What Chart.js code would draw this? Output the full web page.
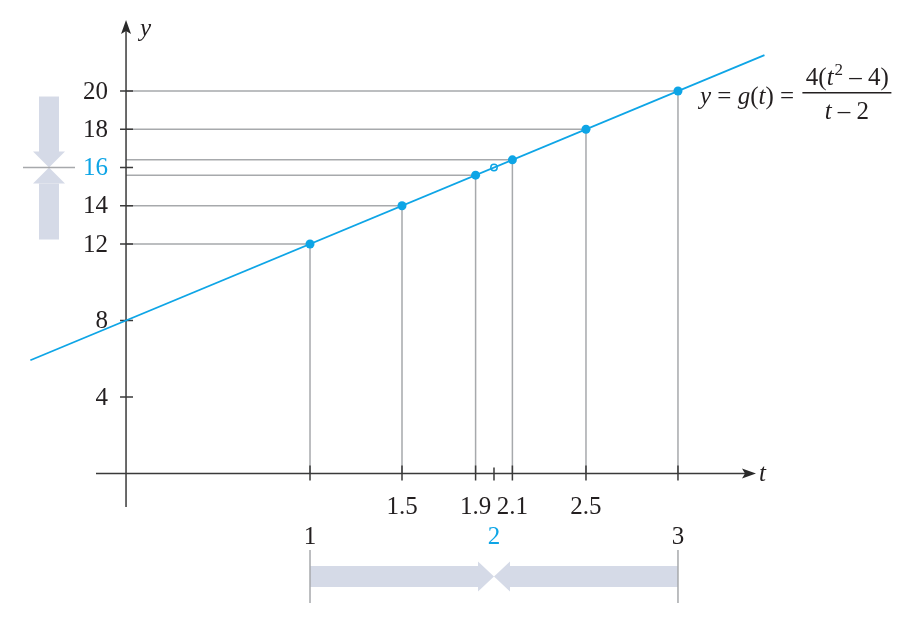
<!DOCTYPE html>
<html>
<head>
<meta charset="utf-8">
<script src="https://cdn.jsdelivr.net/npm/chart.js@4.4.1/dist/chart.umd.min.js"></script>
<style>
html, body { margin: 0; padding: 0; background: #fff; }
#wrap { width: 912px; height: 619px; position: relative; }
</style>
</head>
<body>
<div id="wrap"><canvas id="chart"></canvas></div>
<script>
// values
var tValues = [1, 1.5, 1.9, 2.1, 2.5, 3];
var gValues = [12, 14, 15.6, 16.4, 18, 20];
var holeT = [2];
var holeY = [16];
var lineT = [-0.52, 3.47];
var lineY = [5.92, 21.88];
var yTicks = [4, 8, 12, 14, 16, 18, 20];
var tTicksUpper = [1.5, 1.9, 2.1, 2.5];
var tTicksLower = [1, 2, 3];

var BLUE = '#0ea5e6';
var GRAY = '#a7a9ac';
var INK = '#231f20';
var PALE = '#d5dae7';
var SERIF = '"Liberation Serif", "Times New Roman", serif';
var FS = 25;

function pts(xs, ys) {
    var out = [];
    for (var i = 0; i < xs.length; i++) out.push({x: xs[i], y: ys[i]});
    return out;
}

function tri(ctx, a, b, c) {
    ctx.beginPath();
    ctx.moveTo(a[0], a[1]); ctx.lineTo(b[0], b[1]); ctx.lineTo(c[0], c[1]);
    ctx.closePath(); ctx.fill();
}

// draws a run of [text, italic] pieces starting at x
function runText(ctx, parts, x, y, size) {
    for (var i = 0; i < parts.length; i++) {
        ctx.font = (parts[i][1] ? 'italic ' : '') + size + 'px ' + SERIF;
        ctx.fillText(parts[i][0], x, y);
        x += ctx.measureText(parts[i][0]).width;
    }
    return x;
}

function runWidth(ctx, parts, size) {
    var w = 0;
    parts.forEach(function(p) {
        ctx.font = (p[1] ? 'italic ' : '') + size + 'px ' + SERIF;
        w += ctx.measureText(p[0]).width;
    });
    return w;
}

var axesPlugin = {
    id: 'axesPlugin',
    beforeDatasetsDraw: function(chart) {
        var ctx = chart.ctx, xs = chart.scales.x, ys = chart.scales.y;
        var ax = xs.getPixelForValue(0), ay = ys.getPixelForValue(0);
        ctx.save();

        // grey guide lines
        ctx.strokeStyle = GRAY;
        ctx.lineWidth = 1.5;
        for (var i = 0; i < tValues.length; i++) {
            var px = xs.getPixelForValue(tValues[i]), py = ys.getPixelForValue(gValues[i]);
            ctx.beginPath();
            ctx.moveTo(ax, py); ctx.lineTo(px, py);
            ctx.moveTo(px, py); ctx.lineTo(px, ay);
            ctx.stroke();
        }

        // axes
        ctx.strokeStyle = '#3a3a3a';
        ctx.fillStyle = '#2a2a2a';
        ctx.lineWidth = 1.5;
        ctx.beginPath();
        ctx.moveTo(ax, 507); ctx.lineTo(ax, 28);
        ctx.moveTo(96, ay); ctx.lineTo(748, ay);
        ctx.stroke();
        // arrow heads
        ctx.beginPath();
        ctx.moveTo(ax, 20); ctx.lineTo(ax + 5, 34); ctx.lineTo(ax, 31); ctx.lineTo(ax - 5, 34); ctx.closePath(); ctx.fill();
        ctx.beginPath();
        ctx.moveTo(756, ay); ctx.lineTo(742, ay - 5); ctx.lineTo(745, ay); ctx.lineTo(742, ay + 5); ctx.closePath(); ctx.fill();

        // ticks
        ctx.beginPath();
        yTicks.forEach(function(v) {
            var py = ys.getPixelForValue(v);
            ctx.moveTo(ax - 6, py); ctx.lineTo(ax + 7, py);
        });
        tTicksUpper.concat(tTicksLower).forEach(function(v) {
            var px = xs.getPixelForValue(v);
            var top = v === 2 ? ay - 6 : ay - 8;
            ctx.moveTo(px, top); ctx.lineTo(px, ay + 7);
        });
        ctx.stroke();

        // pale convergence arrows on the y side
        var p16 = ys.getPixelForValue(16);
        ctx.fillStyle = PALE;
        ctx.fillRect(39, p16 - 71, 20, 56);
        tri(ctx, [33, p16 - 16], [65, p16 - 16], [49, p16]);
        tri(ctx, [33, p16 + 16], [65, p16 + 16], [49, p16]);
        ctx.fillRect(39, p16 + 16, 20, 56);
        ctx.strokeStyle = GRAY;
        ctx.beginPath(); ctx.moveTo(23, p16); ctx.lineTo(75, p16); ctx.stroke();

        // pale convergence arrows on the t side
        var x1 = xs.getPixelForValue(tTicksLower[0]);
        var x2 = xs.getPixelForValue(tTicksLower[1]);
        var x3 = xs.getPixelForValue(tTicksLower[2]);
        var cy = 576.5;
        ctx.fillStyle = PALE;
        ctx.fillRect(x1, cy - 10.5, (x2 - 16) - x1, 21);
        tri(ctx, [x2 - 16, cy - 15], [x2 - 16, cy + 15], [x2, cy]);
        tri(ctx, [x2 + 16, cy - 15], [x2 + 16, cy + 15], [x2, cy]);
        ctx.fillRect(x2 + 16, cy - 10.5, x3 - (x2 + 16), 21);
        ctx.strokeStyle = GRAY;
        ctx.beginPath();
        ctx.moveTo(x1, 550); ctx.lineTo(x1, 603);
        ctx.moveTo(x3, 550); ctx.lineTo(x3, 603);
        ctx.stroke();

        ctx.restore();
    },
    afterDatasetsDraw: function(chart) {
        var ctx = chart.ctx, xs = chart.scales.x, ys = chart.scales.y;
        var ax = xs.getPixelForValue(0);
        ctx.save();
        ctx.textBaseline = 'middle';

        // y tick labels
        ctx.font = FS + 'px ' + SERIF;
        ctx.textAlign = 'right';
        yTicks.forEach(function(v) {
            ctx.fillStyle = v === 16 ? BLUE : INK;
            ctx.fillText(String(v), ax - 18, ys.getPixelForValue(v) + 1);
        });

        // t tick labels
        ctx.textAlign = 'center';
        tTicksUpper.forEach(function(v) {
            ctx.fillStyle = INK;
            ctx.fillText(String(v), xs.getPixelForValue(v), 507);
        });
        tTicksLower.forEach(function(v) {
            ctx.fillStyle = v === 2 ? BLUE : INK;
            ctx.fillText(String(v), xs.getPixelForValue(v), 537);
        });

        // axis names
        ctx.fillStyle = INK;
        ctx.textBaseline = 'alphabetic';
        ctx.textAlign = 'left';
        ctx.font = 'italic ' + FS + 'px ' + SERIF;
        ctx.fillText('y', 140, 36);
        ctx.fillText('t', 759, 481);

        // formula label
        var end = runText(ctx, [['y', true], [' = ', false], ['g', true], ['(', false], ['t', true], [') = ', false]], 700, 104, FS);
        var fx = end + 2, fw = 89, mid = fx + fw / 2;
        ctx.fillRect(fx, 92, fw, 1.5);
        var numParts = [['4(', false], ['t', true]];
        var w1 = runWidth(ctx, numParts, FS);
        ctx.font = '17px ' + SERIF;
        var wSup = ctx.measureText('2').width;
        ctx.font = FS + 'px ' + SERIF;
        var wRest = ctx.measureText(' \u2013 4)').width;
        var nx = mid - (w1 + wSup + wRest) / 2;
        nx = runText(ctx, numParts, nx, 85, FS);
        ctx.font = '17px ' + SERIF;
        ctx.fillText('2', nx + 1, 75);
        nx += wSup + 1;
        ctx.font = FS + 'px ' + SERIF;
        ctx.fillText(' \u2013 4)', nx, 85);
        var den = [['t', true], [' \u2013 2', false]];
        runText(ctx, den, mid - runWidth(ctx, den, FS) / 2, 119, FS);

        ctx.restore();
    }
};

new Chart(document.getElementById('chart'), {
    type: 'scatter',
    data: {
        datasets: [{
            data: pts(lineT, lineY),
            showLine: true,
            borderColor: BLUE,
            borderWidth: 1.8,
            pointRadius: 0
        }, {
            data: pts(tValues, gValues),
            pointRadius: 4.5,
            pointBackgroundColor: BLUE,
            pointBorderColor: BLUE,
            pointBorderWidth: 0
        }, {
            data: pts(holeT, holeY),
            pointRadius: 3.2,
            pointBackgroundColor: '#fff',
            pointBorderColor: BLUE,
            pointBorderWidth: 1.5
        }]
    },
    options: {
        responsive: true,
        maintainAspectRatio: false,
        animation: false,
        layout: { padding: 0, autoPadding: false },
        clip: false,
        plugins: { legend: { display: false }, tooltip: { enabled: false } },
        scales: {
            x: { type: 'linear', min: -0.685, max: 4.272, display: false },
            y: { type: 'linear', min: -7.61, max: 24.76, display: false }
        }
    },
    plugins: [axesPlugin]
});
</script>
</body>
</html>
